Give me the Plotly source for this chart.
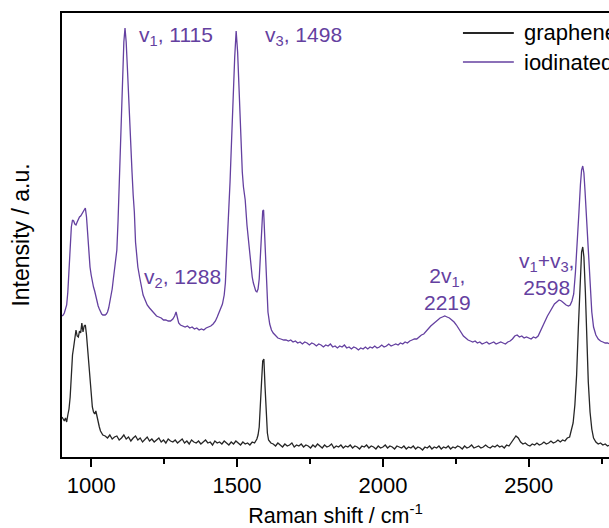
import plotly.graph_objects as go

# ---------------- data ----------------
graphene_x = [
    900, 904, 908, 912, 916, 920, 924, 928, 932, 936, 940, 944, 948, 952, 956, 960, 964, 968, 972, 976,
    980, 984, 988, 992, 996, 1000, 1004, 1008, 1012, 1016, 1020, 1024, 1028, 1032, 1036, 1040,
    1048, 1056, 1064, 1072, 1080, 1088, 1096, 1104, 1112, 1120, 1128, 1136, 1144, 1152, 1160, 1168,
    1176, 1184, 1192, 1200, 1208, 1216, 1224, 1232, 1240, 1248, 1256, 1264, 1272, 1280, 1288, 1296,
    1304, 1312, 1320, 1328, 1336, 1344, 1352, 1360, 1368, 1376, 1384, 1392, 1400, 1408, 1416, 1424,
    1432, 1440, 1448, 1456, 1464, 1472, 1480, 1488, 1496, 1504, 1512, 1520, 1528, 1536, 1544, 1552,
    1560, 1568, 1572, 1576, 1580, 1584, 1588, 1592, 1596, 1600, 1604, 1608, 1612, 1616,
    1624, 1632, 1640, 1648, 1656, 1664, 1672, 1680, 1688, 1696, 1704, 1712, 1720, 1728, 1736, 1744,
    1752, 1760, 1768, 1776, 1784, 1792, 1800, 1808, 1816, 1824, 1832, 1840, 1848, 1856, 1864, 1872,
    1880, 1888, 1896, 1904, 1912, 1920, 1928, 1936, 1944, 1952, 1960, 1968, 1976, 1984, 1992, 2000,
    2008, 2016, 2024, 2032, 2040, 2048, 2056, 2064, 2072, 2080, 2088, 2096, 2104, 2112, 2120, 2128,
    2136, 2144, 2152, 2160, 2168, 2176, 2184, 2192, 2200, 2208, 2216, 2224, 2232, 2240, 2248, 2256,
    2264, 2272, 2280, 2288, 2296, 2304, 2312, 2320, 2328, 2336, 2344, 2352, 2360, 2368, 2376, 2384,
    2392, 2400, 2408, 2416, 2424, 2432, 2440, 2448, 2456, 2464, 2472, 2480, 2488, 2496, 2504, 2512,
    2520, 2528, 2536, 2544, 2552, 2560, 2568, 2576, 2584, 2592, 2600, 2608, 2616, 2624, 2632, 2640,
    2646, 2652, 2658, 2664, 2670, 2676, 2681, 2685, 2689, 2694, 2699, 2704, 2710, 2716, 2722, 2730,
    2738, 2746, 2754, 2762, 2770, 2778,
]
graphene_y = [
    40, 38, 36, 39, 35, 42, 48, 60, 85, 102, 110, 118, 127, 121, 120, 126, 124, 134, 125, 131,
    132, 122, 108, 90, 74, 60, 50, 45, 43, 46, 40, 34, 30, 26, 24, 22,
    21, 19, 22, 18, 20, 21, 17, 19, 22, 18, 20, 16, 19, 21, 17, 19,
    15, 18, 20, 16, 18, 15, 17, 19, 15, 17, 14, 18, 16, 15, 17, 14,
    16, 18, 14, 16, 13, 17, 15, 14, 16, 13, 15, 17, 14, 15, 12, 16,
    14, 15, 13, 16, 14, 12, 15, 13, 16, 14, 12, 15, 13, 14, 12, 15,
    14, 18, 22, 30, 48, 75, 96, 98, 70, 40, 24, 17, 15, 14,
    13, 11, 14, 12, 10, 13, 11, 12, 14, 10, 12, 11, 13, 10, 12, 11,
    9, 12, 10, 13, 11, 9, 12, 10, 11, 13, 9, 11, 10, 12, 9, 11,
    10, 12, 9, 11, 10, 8, 11, 10, 12, 9, 11, 10, 8, 11, 9, 10,
    12, 9, 11, 10, 8, 11, 10, 9, 11, 8, 10, 9, 11, 8, 10, 9,
    7, 10, 9, 11, 8, 10, 9, 11, 8, 10, 9, 11, 8, 10, 9, 11,
    10, 8, 11, 9, 10, 12, 9, 10, 11, 9, 10, 12, 10, 9, 11, 10,
    12, 10, 11, 9, 12, 11, 14, 18, 21, 19, 15, 13, 14, 12, 11, 13,
    12, 14, 12, 13, 15, 13, 14, 16, 14, 15, 17, 15, 17, 16, 19, 20,
    26, 34, 52, 82, 130, 180, 205, 210, 200, 165, 115, 75, 45, 28, 19, 15,
    13, 14, 12, 13, 11, 12,
]

iodinated_x = [
    900, 904, 908, 912, 916, 920, 924, 928, 932, 936, 940, 944, 948, 952, 956, 960, 964, 968, 972, 976,
    980, 984, 988, 992, 996, 1000, 1004, 1008, 1012, 1016, 1020, 1024, 1028, 1032, 1036, 1040, 1044,
    1048, 1052, 1056, 1060, 1064, 1068, 1072, 1076, 1080, 1084, 1088, 1092, 1096, 1100, 1104, 1108,
    1112, 1116, 1120, 1124, 1128, 1132, 1136, 1140, 1144, 1148, 1152, 1156, 1160, 1166, 1172, 1178,
    1185, 1192, 1200, 1208, 1216, 1224, 1232, 1240, 1248, 1256, 1264, 1272, 1280, 1286, 1291, 1296,
    1300, 1306, 1314, 1322, 1330, 1338, 1346, 1354, 1362, 1370, 1378, 1386, 1394, 1402, 1410, 1418,
    1426, 1432, 1438, 1444, 1450, 1456, 1460, 1464, 1468, 1472, 1476, 1480, 1484, 1488, 1492, 1497,
    1502, 1506, 1510, 1514, 1518, 1522, 1528, 1534, 1540, 1546, 1552, 1556, 1560, 1564, 1568, 1572,
    1576, 1580, 1584, 1588, 1591, 1594, 1598, 1602, 1606, 1612, 1618, 1624, 1632, 1640, 1650, 1660,
    1668, 1676, 1684, 1692, 1700, 1708, 1716, 1724, 1732, 1740, 1748, 1756, 1764, 1772, 1780, 1788,
    1796, 1804, 1812, 1820, 1828, 1836, 1844, 1852, 1860, 1868, 1876, 1884, 1892, 1900, 1908, 1916,
    1924, 1932, 1940, 1948, 1956, 1964, 1972, 1980, 1988, 1996, 2004, 2012, 2020, 2028, 2036, 2044,
    2052, 2060, 2068, 2076, 2084, 2092, 2100, 2108, 2116, 2124, 2132, 2140, 2148, 2156, 2164, 2172,
    2180, 2188, 2196, 2204, 2212, 2220, 2228, 2236, 2244, 2252, 2260, 2268, 2276, 2284, 2292, 2300,
    2308, 2316, 2324, 2332, 2340, 2348, 2356, 2364, 2372, 2380, 2388, 2396, 2404, 2412, 2420, 2428,
    2436, 2444, 2452, 2460, 2468, 2476, 2484, 2492, 2500, 2508, 2516, 2524, 2532, 2540, 2548, 2556,
    2564, 2572, 2580, 2588, 2596, 2604, 2612, 2620, 2628, 2636, 2642, 2648, 2654, 2660, 2666, 2672,
    2677, 2681, 2685, 2689, 2693, 2697, 2701, 2706, 2711, 2716, 2722, 2730, 2738, 2746, 2754, 2762,
    2770, 2778,
]
iodinated_y = [
    141, 142, 144, 147, 152, 165, 190, 215, 230, 237, 236, 233, 232, 235, 238, 240, 241, 243, 244, 246,
    249, 240, 222, 205, 190, 182, 175, 170, 166, 160, 155, 151, 148, 145, 143, 142, 142,
    142, 143, 145, 149, 155, 161, 168, 178, 188, 198, 207, 235, 270, 310, 345, 390,
    415, 429, 415, 390, 360, 335, 307, 285, 262, 245, 215, 200, 190, 180, 170, 162,
    157, 152, 149, 146, 143, 141, 140, 139, 137, 137, 136, 136, 138, 141, 145, 138,
    134, 132, 131, 130, 131, 129, 130, 128, 129, 127, 128, 127, 129, 130, 131, 133,
    136, 140, 145, 149, 153, 162, 174, 200, 222, 245, 275, 307, 340, 370, 400, 426,
    405, 375, 340, 307, 285, 270, 257, 232, 212, 195, 180, 174, 169, 166, 165, 168,
    178, 200, 228, 246, 247, 225, 190, 165, 145, 133, 127, 124, 121, 119, 118, 117,
    117, 116, 117, 115, 116, 114, 115, 113, 115, 114, 112, 114, 113, 111, 113, 112,
    110, 112, 111, 113, 110, 111, 109, 111, 110, 112, 109, 110, 108, 110, 109, 107,
    109, 108, 110, 108, 110, 109, 111, 109, 110, 112, 110, 111, 113, 111, 112, 113,
    112, 114, 113, 115, 114, 116, 117, 118, 118, 120, 122, 123, 126, 128, 131, 133,
    135, 137, 139, 140, 141, 140, 139, 137, 135, 132, 128, 124, 121, 119, 117, 116,
    115, 116, 114, 115, 113, 114, 115, 113, 114, 115, 113, 114, 115, 114, 113, 115,
    116, 118, 121, 122, 120, 121, 119, 120, 119, 118, 120, 119, 121, 126, 131, 137,
    141, 145, 149, 153, 155, 157, 156, 154, 152, 151, 152, 156, 163, 185, 210, 245,
    272, 287, 291, 284, 265, 245, 222, 200, 170, 145, 130, 122, 118, 116, 115, 114,
    114, 113,
]

series_names = ["graphene", "iodinated"]
peak_labels = ["v<sub>1</sub>, 1115", "v<sub>3</sub>, 1498", "v<sub>2</sub>, 1288",
               "2v<sub>1</sub>,<br>2219", "v<sub>1</sub>+v<sub>3</sub>,<br>2598"]
peak_label_x = [1157, 1589, 1174, 2220, 2560]
peak_label_y = [421, 421, 179, 168, 183]

x_ticks = [1000, 1500, 2000, 2500]

# ---------------- styling ----------------
BLACK = "#262626"
PURPLE = "#6440a0"
FONT = "Liberation Sans, Arial, sans-serif"

fig = go.Figure()
fig.add_trace(go.Scatter(x=graphene_x, y=graphene_y, mode="lines", name=series_names[0],
                         line=dict(color=BLACK, width=1.3), showlegend=False))
fig.add_trace(go.Scatter(x=iodinated_x, y=iodinated_y, mode="lines", name=series_names[1],
                         line=dict(color=PURPLE, width=1.3), showlegend=False))

# peak annotations
for txt, px, py in zip(peak_labels, peak_label_x, peak_label_y):
    fig.add_annotation(x=px, y=py, xref="x", yref="y", text=txt, showarrow=False,
                       xanchor="center" if "<br>" in txt else "left",
                       yanchor="middle",
                       font=dict(family=FONT, size=21, color=PURPLE))

# hand-made legend (line samples + labels), cut at the right edge like the reference
legend_rows = [(0.955, BLACK, 2.0), (0.8896, PURPLE, 1.3)]
for (yy, col, w), name in zip(legend_rows, series_names):
    fig.add_shape(type="line", xref="paper", yref="paper", x0=0.733, x1=0.826, y0=yy, y1=yy,
                  line=dict(color=col, width=w))
    fig.add_annotation(xref="paper", yref="paper", x=0.841, y=yy, text=name, showarrow=False,
                       xanchor="left", yanchor="middle",
                       font=dict(family=FONT, size=22, color="black"))

fig.update_layout(
    width=609, height=528,
    margin=dict(l=62, r=0, t=13, b=71),
    paper_bgcolor="white", plot_bgcolor="white",
    font=dict(family=FONT, size=21, color="black"),
    showlegend=False,
)
fig.update_xaxes(
    range=[900, 2775], tickvals=x_ticks, ticktext=[str(v) for v in x_ticks],
    ticks="outside", ticklen=8, tickwidth=1.5, tickcolor="black",
    minor=dict(dtick=250, tick0=1000, ticks="outside", ticklen=5, tickwidth=1.5, tickcolor="black"),
    showline=True, linecolor="black", linewidth=1.8, mirror=True,
    showgrid=False, zeroline=False,
    title=dict(text="Raman shift / cm<sup>-1</sup>", standoff=12, font=dict(size=21.5)),
    automargin=False, tickfont=dict(size=22),
)
fig.update_yaxes(
    range=[0, 444], showticklabels=False, ticks="",
    showline=True, linecolor="black", linewidth=1.8, mirror=False,
    showgrid=False, zeroline=False,
    title=dict(text="Intensity / a.u.", standoff=24, font=dict(size=23)),
    automargin=False,
)

fig.write_html("out.html")
